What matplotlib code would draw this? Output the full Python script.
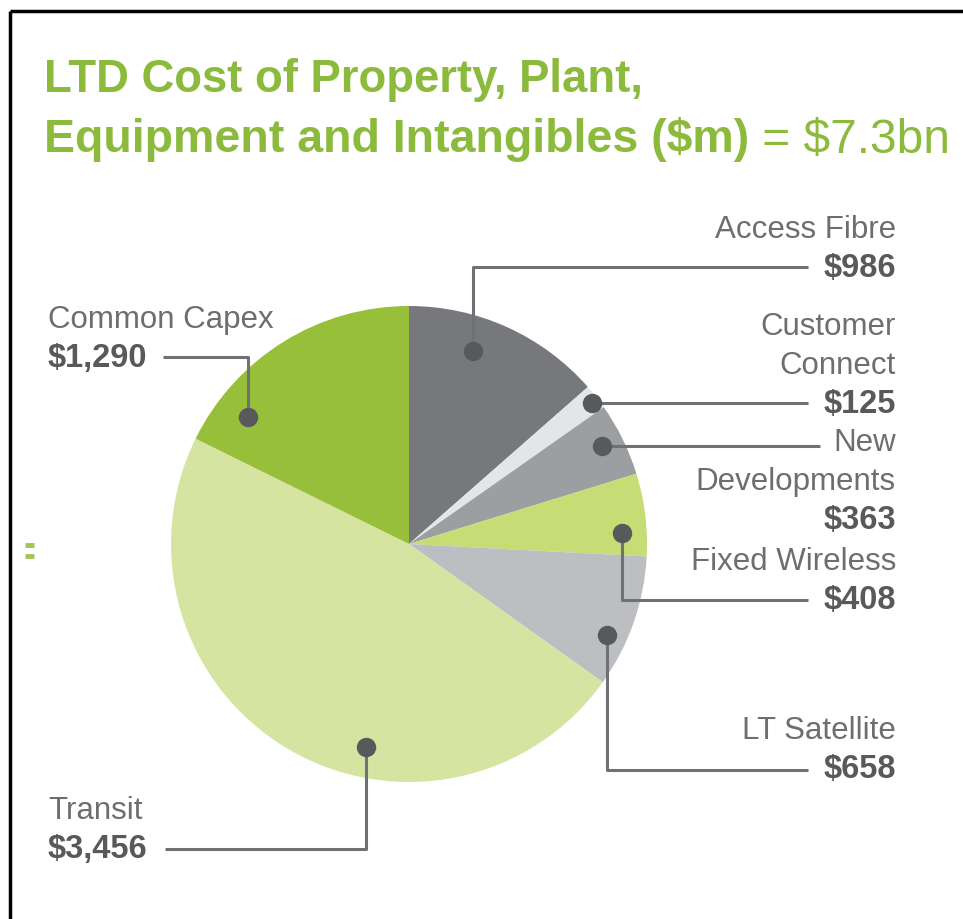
import matplotlib
matplotlib.use("Agg")
import matplotlib.pyplot as plt
import numpy as np

# ---- data ($m) ----
segments = ["Access Fibre", "Customer Connect", "New Developments", "Fixed Wireless",
            "LT Satellite", "Transit", "Common Capex"]
costs = [986, 125, 363, 408, 658, 3456, 1290]
label_lines = [["Access Fibre"], ["Customer", "Connect"], ["New", "Developments"],
               ["Fixed Wireless"], ["LT Satellite"], ["Transit"], ["Common Capex"]]
title_line1 = "LTD Cost of Property, Plant,"
title_line2_bold = "Equipment and Intangibles ($m)"
title_line2_total = " = $7.3bn"

colors = ["#77787b", "#e4e5e7", "#9d9ea2", "#c6dc74", "#bdbec2", "#d5e5a1", "#97bf3a"]
GREEN = "#8cba3c"
TXT = "#6d6e71"
TXT_B = "#58595b"

W, H = 963, 920
fig = plt.figure(figsize=(W / 100, H / 100), dpi=100)
ax = fig.add_axes([0, 0, 1, 1])

def Y(y):
    return H - y

cx, cy, R = 409, Y(545), 238
wedges, _ = ax.pie(costs, colors=colors, startangle=90, counterclock=False,
                   center=(cx, cy), radius=R, wedgeprops=dict(linewidth=0))
ax.set_xlim(0, W)
ax.set_ylim(0, H)
ax.set_aspect("auto")
ax.axis("off")

# leader layout: dot (angle deg, radius frac), path corner points in pixel coords
leader = {
    "Access Fibre":     dict(ang=71.7, rf=0.853, path=[("v", 268), ("h", 808)], side="r", y0=230),
    "Customer Connect": dict(ang=37.6, rf=0.970, path=[("h", 808)], side="r", y0=327),
    "New Developments": dict(ang=26.9, rf=0.908, path=[("h", 820)], side="r", y0=443),
    "Fixed Wireless":   dict(ang=3.0,  rf=0.895, path=[("v", 601), ("h", 808)], side="r", y0=562),
    "LT Satellite":     dict(ang=-24.7, rf=0.916, path=[("v", 771), ("h", 808)], side="r", y0=731),
    "Transit":          dict(ang=-102.0, rf=0.872, path=[("v", 850), ("h", 165)], side="l", y0=811),
    "Common Capex":     dict(ang=141.7, rf=0.861, path=[("v", 358), ("h", 163)], side="l", y0=320),
}

line_h = 39
for name, val, lines in zip(segments, costs, label_lines):
    L = leader[name]
    a = np.deg2rad(L["ang"])
    dx = cx + R * L["rf"] * np.cos(a)
    dy = cy + R * L["rf"] * np.sin(a)
    xs, ys = [dx], [dy]
    for kind, v in L["path"]:
        if kind == "v":
            xs.append(xs[-1]); ys.append(Y(v))
        else:
            xs.append(v); ys.append(ys[-1])
    ax.plot(xs, ys, color="#707174", lw=2.2, solid_capstyle="butt", zorder=3)
    ax.plot([dx], [dy], "o", color=TXT_B, ms=14, mec="none", zorder=4)

    if L["side"] == "r":
        tx, ha = 896, "right"
    else:
        tx, ha = 48, "left"
    y = L["y0"]
    for ln in lines:
        ax.text(tx, Y(y), ln, ha=ha, va="center", fontsize=22.5,
                family="Liberation Sans", color=TXT)
        y += line_h
    ax.text(tx, Y(y), f"${val:,}", ha=ha, va="center", fontsize=23.5,
            family="Liberation Sans", weight="bold", color=TXT_B)

# title
ax.text(44, Y(80), title_line1, ha="left", va="center", fontsize=32.8,
        family="Liberation Sans", weight="bold", color=GREEN)
t2 = ax.text(44, Y(140), title_line2_bold, ha="left", va="center", fontsize=33.5,
             family="Liberation Sans", weight="bold", color=GREEN)
fig.canvas.draw()
bb = t2.get_window_extent()
ax.text(bb.x1, Y(140), title_line2_total, ha="left", va="center", fontsize=34.5,
        family="Liberation Sans", color=GREEN)

# stray mark at the left margin
for yy in (546, 557):
    ax.plot([25, 34], [Y(yy), Y(yy)], color="#a3c55a", lw=3.5, solid_capstyle="butt")

# frame lines
ax.plot([10, W], [Y(12), Y(12)], color="black", lw=2.5, solid_capstyle="butt")
ax.plot([10, 10], [Y(12), 0], color="black", lw=2.5, solid_capstyle="butt")

fig.savefig("out.png", dpi=100, facecolor="white")
